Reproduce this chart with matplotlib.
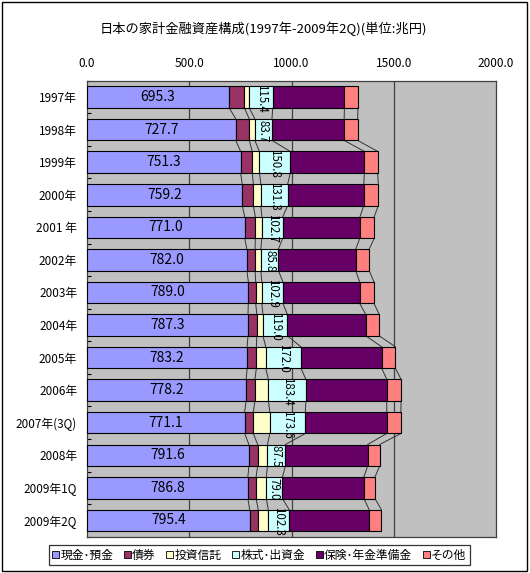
import numpy as np
import matplotlib
matplotlib.use("Agg")
import matplotlib.pyplot as plt
from matplotlib.patches import Rectangle, Patch

plt.rcParams['font.family'] = ['Noto Sans CJK JP', 'DejaVu Sans']

# =========================
# Data (trillion yen)
# =========================
years = ['1997年', '1998年', '1999年', '2000年', '2001 年', '2002年', '2003年',
         '2004年', '2005年', '2006年', '2007年(3Q)', '2008年', '2009年1Q', '2009年2Q']
cash      = [695.3, 727.7, 751.3, 759.2, 771.0, 782.0, 789.0, 787.3, 783.2, 778.2, 771.1, 791.6, 786.8, 795.4]
bonds     = [74, 66, 57, 54, 52, 40, 36, 43, 45, 43, 42, 43, 40, 42]
trusts    = [24, 27, 35, 37, 32, 28, 30, 30, 46, 66, 81, 48, 50, 49]
stocks    = [115.4, 83.7, 150.8, 131.3, 102.7, 85.8, 102.9, 119.0, 172.0, 183.4, 173.6, 87.5, 79.0, 102.3]
insurance = [350, 353, 362, 372, 377, 378, 375, 383, 395, 395, 398, 402, 398, 391]
other     = [66, 66, 65, 71, 70, 66, 70, 66, 67, 70, 69, 59, 54, 60]

series_names = ['現金･預金', '債券', '投資信託', '株式･出資金', '保険･年金準備金', 'その他']
colors = ['#9999FF', '#993366', '#FFFFCC', '#CCFFFF', '#660066', '#FF8080']

title = '日本の家計金融資産構成(1997年-2009年2Q)(単位:兆円)'

# =========================
# Figure
# =========================
fig = plt.figure(figsize=(5.3, 5.73), dpi=100)
ax = fig.add_axes([0.164, 0.0634, 0.772, 0.7956])
ax.set_facecolor('#C0C0C0')

n = len(years)
y = np.arange(n)
h = 0.66

data = np.array([cash, bonds, trusts, stocks, insurance, other], dtype=float)
cum = np.vstack((np.zeros(n), np.cumsum(data, axis=0)))

# gridlines behind bars
for gx in [500, 1000, 1500]:
    ax.axvline(gx, color='#404040', lw=0.9, zorder=1)

for k in range(len(data)):
    ax.barh(y, data[k], left=cum[k], height=h, color=colors[k],
            edgecolor='black', linewidth=0.8, zorder=3)

# series lines between adjacent bars
for i in range(n - 1):
    for j in range(1, len(data) + 1):
        ax.plot([cum[j][i], cum[j][i + 1]], [i + h / 2, i + 1 - h / 2],
                color='#333333', lw=0.7, zorder=2)

# labels: cash (horizontal), stocks (rotated)
for i in range(n):
    ax.text(cum[0][i] + cash[i] / 2, i, f'{cash[i]:.1f}', ha='center', va='center',
            fontsize=10, zorder=5)
    ax.text(cum[3][i] + stocks[i] / 2, i + 0.04, f'{stocks[i]:.1f}', ha='center', va='center',
            fontsize=8.3, rotation=270, zorder=5)

ax.set_xlim(0, 2000)
ax.set_ylim(n - 0.5, -0.5)
ax.xaxis.tick_top()
ax.set_xticks([0, 500, 1000, 1500, 2000])
ax.set_xticklabels([f'{v:.1f}' for v in [0, 500, 1000, 1500, 2000]])
ax.tick_params(axis='x', length=0, pad=8, labelsize=8.5)
ax.set_yticks(y)
ax.set_yticklabels(years)
ax.tick_params(axis='y', which='major', length=0, pad=7, labelsize=8.5)
ax.set_yticks(np.arange(-0.5, n, 1.0), minor=True)
ax.tick_params(axis='y', which='minor', direction='in', length=3, width=0.8)
for s in ax.spines.values():
    s.set_color('#404040')
    s.set_linewidth(0.9)

fig.text(0.497, 1 - 28.5 / 573, title, ha='center', va='center', fontsize=9.5)

handles = [Patch(facecolor=c, edgecolor='black', linewidth=0.6) for c in colors]
leg = fig.legend(handles, series_names, loc='center', bbox_to_anchor=(0.489, 0.031),
                 ncol=6, fontsize=8.5, frameon=True, fancybox=False, edgecolor='black',
                 handlelength=0.6, handleheight=0.6, handletextpad=0.1,
                 columnspacing=0.9, borderpad=0.3)
leg.get_frame().set_linewidth(0.9)

fig.patches.append(Rectangle((0.004, 0.004), 0.99, 0.992, transform=fig.transFigure,
                             fill=False, edgecolor='black', linewidth=1.0))

fig.savefig('out.png', dpi=100)
